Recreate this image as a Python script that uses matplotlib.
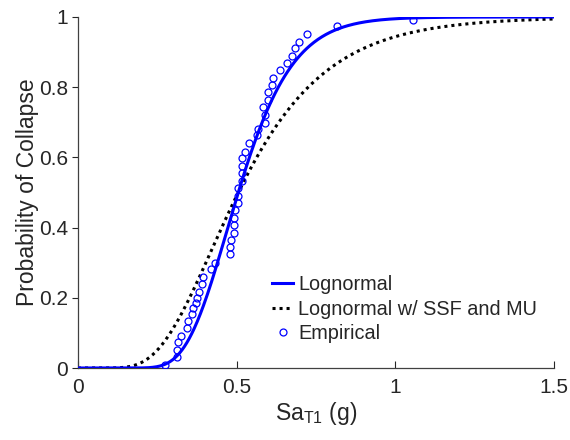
import math
import numpy as np
import matplotlib
matplotlib.use("Agg")
import matplotlib.pyplot as plt

# Empirical collapse data
emp_sa = [0.274, 0.313, 0.311, 0.316, 0.324, 0.344, 0.348, 0.358, 0.363, 0.371,
          0.374, 0.382, 0.392, 0.395, 0.419, 0.432, 0.479, 0.479, 0.481, 0.492,
          0.492, 0.492, 0.495, 0.505, 0.505, 0.505, 0.518, 0.516, 0.518, 0.518,
          0.526, 0.540, 0.563, 0.568, 0.589, 0.589, 0.584, 0.600, 0.600, 0.610,
          0.614, 0.637, 0.658, 0.673, 0.684, 0.696, 0.721, 0.815, 1.057]
emp_p = [0.0085, 0.0305, 0.051, 0.075, 0.092, 0.115, 0.134, 0.154, 0.170, 0.184,
         0.199, 0.217, 0.238, 0.260, 0.281, 0.300, 0.324, 0.346, 0.365, 0.385,
         0.407, 0.426, 0.450, 0.471, 0.490, 0.512, 0.533, 0.555, 0.576, 0.597,
         0.616, 0.640, 0.664, 0.680, 0.699, 0.721, 0.743, 0.764, 0.787, 0.806,
         0.825, 0.849, 0.868, 0.889, 0.911, 0.930, 0.952, 0.974, 0.991]

# Fitted lognormal parameters
median_fit = 0.505
beta_fit = 0.265
median_ssf = 0.505
beta_ssf = 0.43

x_ticks = [0, 0.5, 1, 1.5]
x_tick_labels = ["0", "0.5", "1", "1.5"]
y_ticks = [0, 0.2, 0.4, 0.6, 0.8, 1.0]
y_tick_labels = ["0", "0.2", "0.4", "0.6", "0.8", "1"]

plt.rcParams['font.family'] = ['Liberation Sans', 'DejaVu Sans']
plt.rcParams['mathtext.default'] = 'regular'

erf = np.vectorize(math.erf)
def lognorm_cdf(x, med, beta):
    x = np.asarray(x, dtype=float)
    out = np.zeros_like(x)
    m = x > 0
    out[m] = 0.5 * (1 + erf(np.log(x[m] / med) / (beta * math.sqrt(2))))
    return out

xs = np.linspace(0, 1.5, 600)

fig = plt.figure(figsize=(5.7, 4.4), dpi=100)
ax = fig.add_axes([78/570, 72/440, 476/570, 351/440])

txt = '#262626'
ax.plot(xs, lognorm_cdf(xs, median_fit, beta_fit), color='#0000ff', lw=2.2,
        label='Lognormal', zorder=3)
ax.plot(xs, lognorm_cdf(xs, median_ssf, beta_ssf), color='black', lw=2.2,
        linestyle=(0, (1, 1.3)), label='Lognormal w/ SSF and MU', zorder=2)
ax.plot(emp_sa, emp_p, linestyle='none', marker='o', markersize=5,
        markerfacecolor='none', markeredgecolor='#0000ff', markeredgewidth=0.9,
        label='Empirical', zorder=4)

ax.set_xlim(0, 1.5)
ax.set_ylim(0, 1)
ax.set_xticks(x_ticks)
ax.set_xticklabels(x_tick_labels)
ax.set_yticks(y_ticks)
ax.set_yticklabels(y_tick_labels)

for s in ['top', 'right']:
    ax.spines[s].set_visible(False)
for s in ['left', 'bottom']:
    ax.spines[s].set_color('#404040')
    ax.spines[s].set_linewidth(0.9)

ax.tick_params(axis='x', direction='in', length=5, labelsize=15, colors=txt, pad=7)
ax.tick_params(axis='y', direction='out', length=4, labelsize=15, colors=txt, pad=3)
for t in ax.get_xticklabels() + ax.get_yticklabels():
    t.set_color(txt)

ax.set_xlabel('Sa$_{T1}$ (g)', fontsize=16.5, color=txt, labelpad=2)
ax.set_ylabel('Probability of Collapse', fontsize=16.5, color=txt, labelpad=0)

leg = ax.legend(loc='upper left', bbox_to_anchor=(0.39, 0.287), frameon=False,
                fontsize=14.3, handlelength=1.1, handletextpad=0.25,
                labelspacing=0.28, borderaxespad=0)
for t in leg.get_texts():
    t.set_color(txt)

fig.savefig('out.png', dpi=100)
